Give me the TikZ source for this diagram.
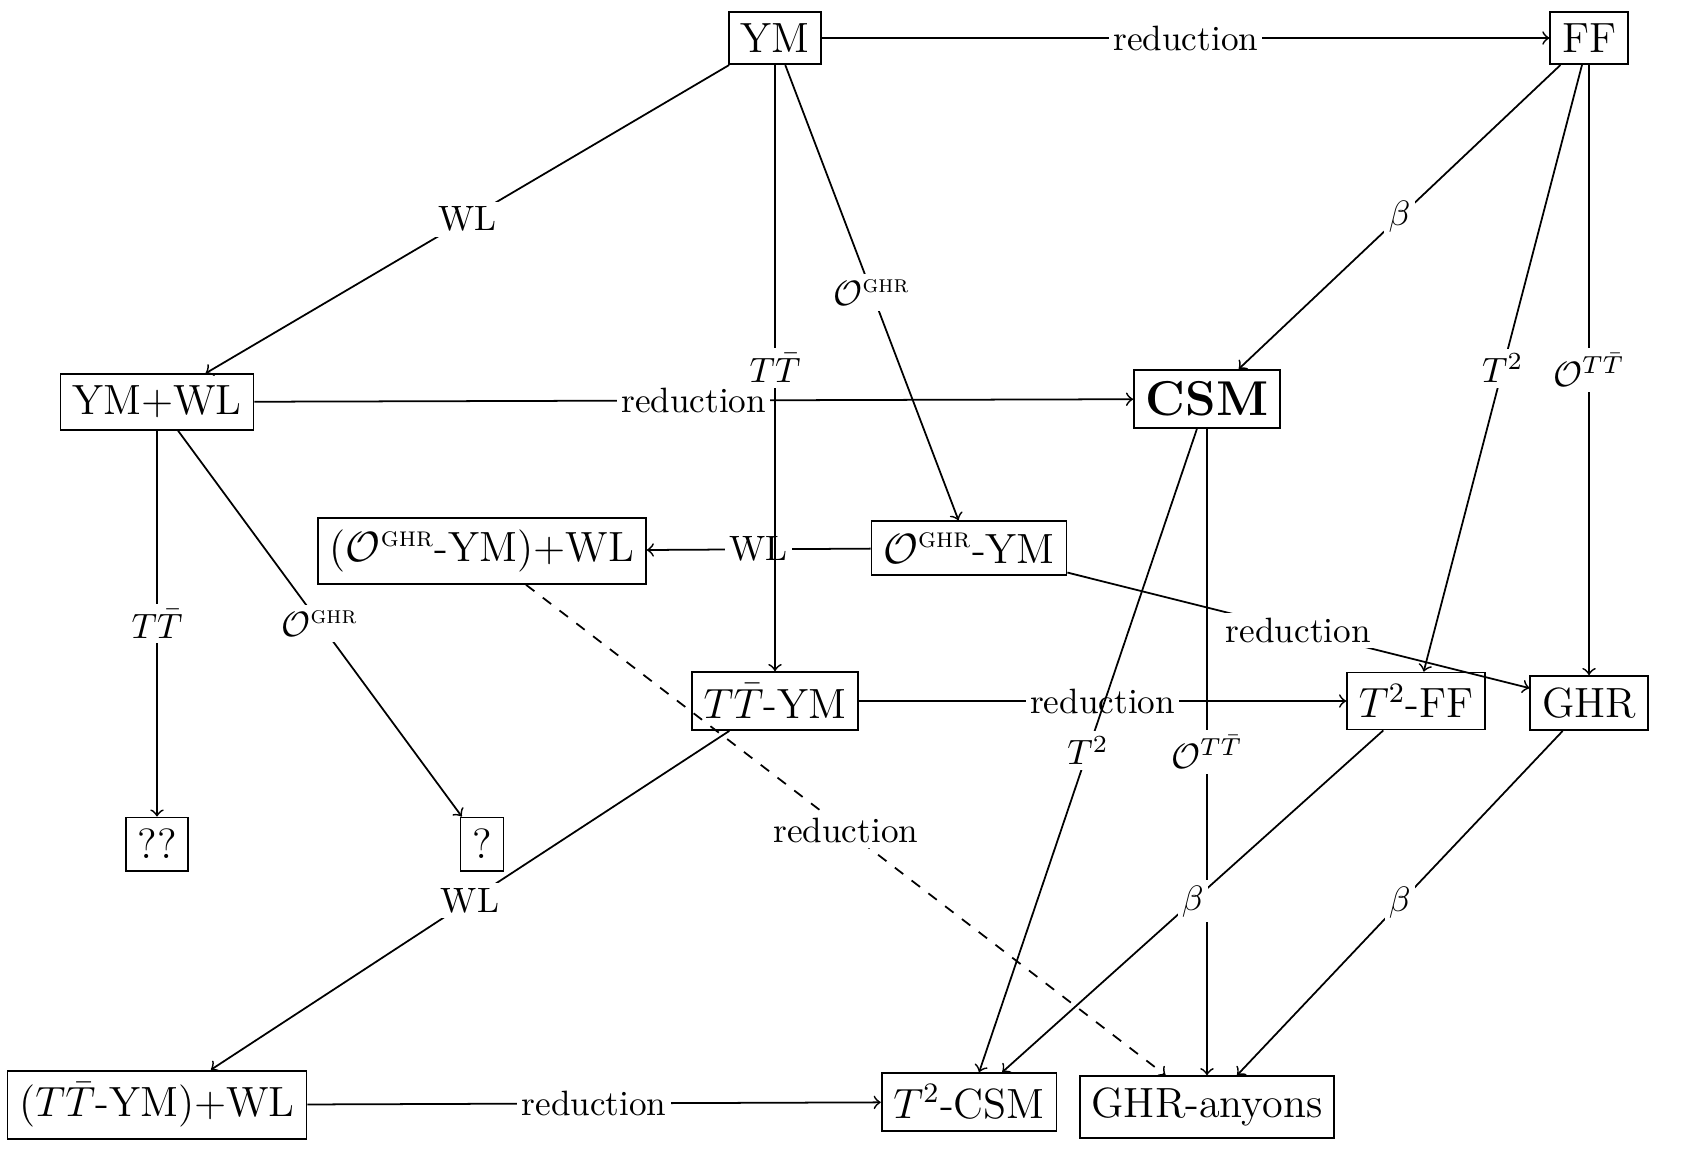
\documentclass[tikz,border=0pt]{standalone}
\usepackage{amsmath}
\newcommand{\ghrop}{\mathcal{O}^{\text{\textsc{ghr}}}}
\newcommand{\ttb}{T\bar{T}}
\begin{document}
\begin{tikzpicture}[x=0.284pt,y=-0.284pt,line width=0.5pt,
  box/.style={draw, font=\fontsize{12}{14.5}\selectfont, inner sep=0.3333em},
  lab/.style={fill=white, font=\fontsize{10}{12}\selectfont, inner xsep=1.2pt, inner ysep=1.5pt},
  arr/.style={->}]
\useasboundingbox (0,0) rectangle (1704,1154);
% nodes
\node[box] (YM) at (775,38) {YM};
\node[box] (FF) at (1589,38) {FF};
\node[box] (YMWL) at (157,402) {YM+WL};
\node[box, font=\fontsize{13.9}{16.5}\selectfont\bfseries] (CSM) at (1207,399) {CSM};
\node[box] (OWL) at (482,551) {($\ghrop$-YM)+WL};
\node[box] (OYM) at (969,548) {$\ghrop$-YM};
\node[box] (TYM) at (775,701) {$\ttb$-YM};
\node[box] (T2FF) at (1416,701) {$T^2$-FF};
\node[box] (GHR) at (1589,703) {GHR};
\node[box] (QQ) at (157,844) {??};
\node[box] (Q) at (482,844) {?};
\node[box] (TWL) at (157,1105) {($\ttb$-YM)+WL};
\node[box] (T2CSM) at (969,1102) {$T^2$-CSM};
\node[box] (GA) at (1207,1107) {GHR-anyons};
% connectors
\draw[arr] (YM) -- node[lab]{reduction} (FF);
\draw[arr] (YM) -- node[lab]{WL} (YMWL);
\draw[arr] (YM) -- node[lab]{$\ghrop$} (OYM);
\draw[arr] (FF) -- node[lab]{$\beta$} (CSM);
\draw[arr] (FF) -- node[lab]{$T^2$} (T2FF);
\draw[arr] (FF) -- node[lab]{$\mathcal{O}^{\ttb}$} (GHR);
\draw[arr] (YMWL) -- node[lab]{reduction} (CSM);
\draw[arr] (YMWL) -- node[lab]{$\ttb$} (QQ);
\draw[arr] (YMWL) -- node[lab]{$\ghrop$} (Q);
\draw[arr] (OYM) -- node[lab]{WL} (OWL);
\draw[arr] (YM) -- node[lab]{$\ttb$} (TYM);
\draw[arr] (OYM) -- node[lab]{reduction} (GHR);
\draw[arr, dashed] (OWL) -- node[lab]{reduction} (GA);
\draw[arr] (TYM) -- node[lab]{reduction} (T2FF);
\draw[arr] (TYM) -- node[lab]{WL} (TWL);
\draw[arr] (CSM) -- node[lab]{$T^2$} (T2CSM);
\draw[arr] (CSM) -- node[lab]{$\mathcal{O}^{\ttb}$} (GA);
\draw[arr] (T2FF) -- node[lab]{$\beta$} (T2CSM);
\draw[arr] (GHR) -- node[lab]{$\beta$} (GA);
\draw[arr] (TWL) -- node[lab]{reduction} (T2CSM);
\end{tikzpicture}
\end{document}
